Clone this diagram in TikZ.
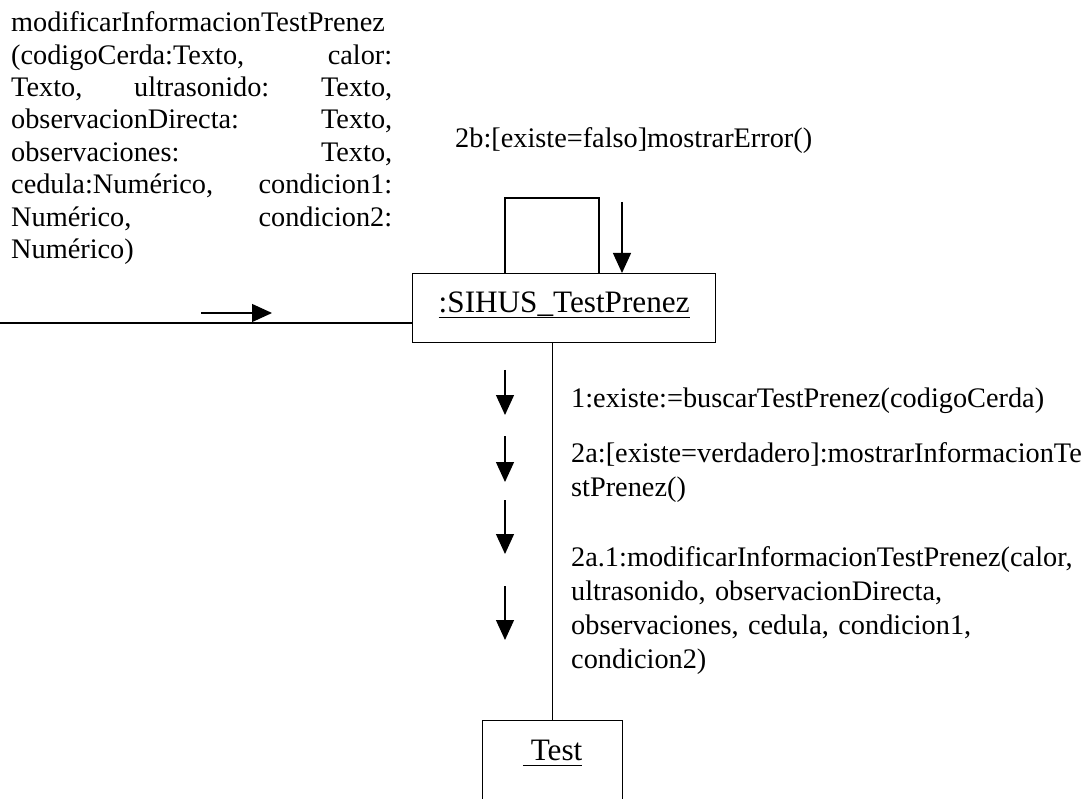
\documentclass[tikz,border=0pt]{standalone}
\usepackage{fontspec}
\setmainfont{Liberation Serif}
\usetikzlibrary{arrows.meta,calc}
\newcommand\myul[1]{\setbox0\hbox{#1}\rlap{\rule[-5.5pt]{\wd0}{1.4pt}}\box0}
\newcommand\jl[1]{\makebox[381pt][s]{#1}}
\begin{document}
\begin{tikzpicture}[x=1pt,y=-1pt,
  body/.style={font=\fontsize{28.3}{32.4}\selectfont, inner sep=0pt},
  rbody/.style={font=\fontsize{28.3}{34.3}\selectfont, inner sep=0pt, text width=600pt, align=left, anchor=base west},
  obj/.style={draw, line width=1.3pt, font=\fontsize{31.2}{36}\selectfont, inner xsep=0pt, inner ysep=0pt, anchor=north west},
  link/.style={line width=1.3pt},
  msg/.style={line width=1.3pt, -{Triangle[length=20pt,width=18pt]}}]
\useasboundingbox (0,0) rectangle (1092,799);
\clip (0,0) rectangle (1092,799);
\fill[white] (0,0) rectangle (1092,799);

% objects
\node[obj, minimum width=303pt, text height=39pt, text depth=30pt] (sihus) at (412,273) {\myul{:SIHUS\_TestPrenez}};
\node[obj, minimum width=140pt, text height=40pt, text depth=80pt] (test) at (482,720) {\myul{\ Test}};

% texts
\node[body, text width=381pt, align=left, anchor=base west] (entry) at (11,31.7) {modificarInformacionTestPrenez\\
\jl{(codigoCerda:Texto,\hfil calor:}\\
\jl{Texto,\hfil ultrasonido:\hfil Texto,}\\
\jl{observacionDirecta:\hfil Texto,}\\
\jl{observaciones:\hfil Texto,}\\
\jl{cedula:Numérico,\hfil condicion1:}\\
\jl{Numérico,\hfil condicion2:}\\
Numérico)};
\node[body, anchor=base west] (m2b) at (455,148) {2b:[existe=falso]mostrarError()};
\node[rbody] (m1) at (571,407) {1:existe:=buscarTestPrenez(codigoCerda)};
\node[rbody] (m2a) at (571,462) {2a:[existe=verdadero]:mostrarInformacionTe\\stPrenez()};
\node[rbody] (m2a1) at (571,566) {2a.1:modificarInformacionTestPrenez(calor,\\ultrasonido, observacionDirecta,\\observaciones, cedula, condicion1,\\condicion2)};

% links
\coordinate (src) at (0,323);
\draw[link] (src) -- (src -| sihus.west);
\draw[link] (test.north) -- (test.north |- sihus.south);
\coordinate (loopL) at (505,198);
\coordinate (loopR) at (599,198);
\draw[link] (loopL |- sihus.north) -- (loopL) -- (loopR) -- (loopR |- sihus.north);

% message arrows
\coordinate (a0) at (201,313);
\draw[msg] (a0) -- ++(71,0);
\coordinate (a2b) at (622,202);
\draw[msg] (a2b) -- (a2b |- sihus.north);
\coordinate (d1) at (505,370);
\draw[msg] (d1) -- ++(0,45);
\coordinate (d2) at (505,436);
\draw[msg] (d2) -- ++(0,46);
\coordinate (d3) at (505,500);
\draw[msg] (d3) -- ++(0,54);
\coordinate (d4) at (505,586);
\draw[msg] (d4) -- ++(0,54);
\end{tikzpicture}
\end{document}
